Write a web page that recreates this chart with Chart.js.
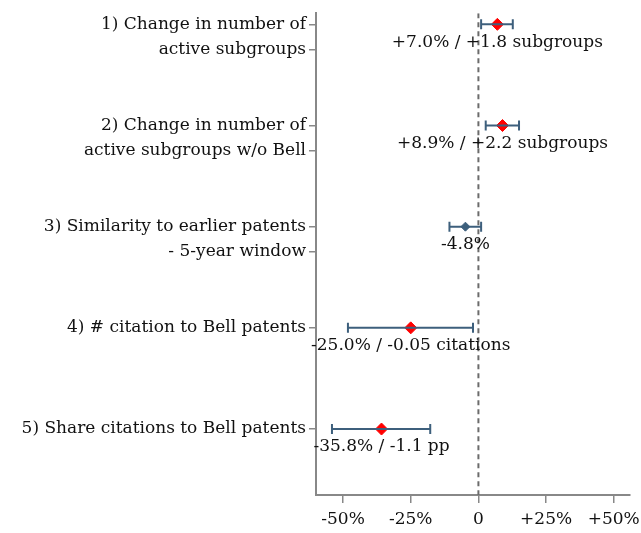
<!DOCTYPE html>
<html>
<head>
<meta charset="utf-8">
<script src="https://cdn.jsdelivr.net/npm/chart.js@4.4.1/dist/chart.umd.min.js"></script>
<style>
  html, body { margin: 0; padding: 0; background: #fff; }
  #wrap { width: 641px; height: 533px; }
</style>
</head>
<body>
<div id="wrap"><canvas id="chart"></canvas></div>
<script>
// outcomes, top to bottom (each line of a label gets its own tick)
const categories = [
  ['1) Change in number of', 'active subgroups'],
  ['2) Change in number of', 'active subgroups w/o Bell'],
  ['3) Similarity to earlier patents', '- 5-year window'],
  ['4) # citation to Bell patents'],
  ['5) Share citations to Bell patents']
];
const estimates = [7.0, 8.9, -4.8, -25.0, -35.8];
const ciLow  = [1.0, 2.7, -10.7, -48.2, -54.1];
const ciHigh = [12.7, 15.0, 1.0, -2.0, -17.8];
const significant = [true, true, false, true, true];
const pointLabels = [
  '+7.0% / +1.8 subgroups',
  '+8.9% / +2.2 subgroups',
  '-4.8%',
  '-25.0% / -0.05 citations',
  '-35.8% / -1.1 pp'
];
const xTicks = [-50, -25, 0, 25, 50];
const xTickLabels = ['-50%', '-25%', '0', '+25%', '+50%'];

const FONT = 'DejaVu Serif';
const FONT_SIZE = 17;
const barColor = '#3d5f7c';
const yMin = 0.89, yMax = 5.652;

// y tick positions: row n, second line a quarter row lower
const yTickVals = [];
const yTickText = {};
categories.forEach((lines, i) => {
  lines.forEach((t, j) => {
    const v = i + 1 + j * 0.25;
    yTickVals.push(v);
    yTickText[v] = t;
  });
});

const datasets = [];

// zero reference line
datasets.push({
  type: 'line',
  data: [{ x: 0, y: yMin }, { x: 0, y: yMax }],
  borderColor: '#6b6b6b',
  borderWidth: 2,
  borderDash: [5, 4],
  pointRadius: 0
});

// confidence intervals with end caps
estimates.forEach((e, i) => {
  datasets.push({
    type: 'line',
    data: [{ x: ciLow[i], y: i + 1 }, { x: ciHigh[i], y: i + 1 }],
    borderColor: barColor,
    borderWidth: 2,
    pointStyle: 'line',
    rotation: 90,
    pointRadius: 5,
    pointBorderWidth: 2,
    pointBorderColor: barColor
  });
});

// point estimates
estimates.forEach((e, i) => {
  datasets.push({
    type: 'scatter',
    data: [{ x: e, y: i + 1 }],
    pointStyle: 'rectRot',
    pointRadius: significant[i] ? 6 : 4.5,
    backgroundColor: significant[i] ? '#ff0000' : barColor,
    borderColor: significant[i] ? '#ff0000' : barColor,
    borderWidth: 1
  });
});

const estimateText = {
  id: 'estimateText',
  afterDatasetsDraw(chart) {
    const { ctx, scales } = chart;
    ctx.save();
    ctx.font = FONT_SIZE + 'px "' + FONT + '"';
    ctx.fillStyle = '#111';
    ctx.textAlign = 'center';
    ctx.textBaseline = 'middle';
    estimates.forEach((e, i) => {
      const x = scales.x.getPixelForValue(e);
      const y = scales.y.getPixelForValue(i + 1);
      ctx.fillText(pointLabels[i], x, y + 18);
    });
    ctx.restore();
  }
};

new Chart(document.getElementById('chart'), {
  type: 'scatter',
  data: { datasets },
  plugins: [estimateText],
  options: {
    responsive: true,
    maintainAspectRatio: false,
    animation: false,
    layout: { padding: { top: 0, right: 11, bottom: 0, left: 0 } },
    plugins: {
      legend: { display: false },
      tooltip: { enabled: false }
    },
    scales: {
      x: {
        type: 'linear',
        min: -60,
        max: 56,
        afterBuildTicks: (axis) => { axis.ticks = xTicks.map(v => ({ value: v })); },
        afterFit: (axis) => {
          axis.height = 38;
          axis.paddingLeft = 0;
          axis.paddingRight = 0;
        },
        ticks: {
          callback: (v) => xTickLabels[xTicks.indexOf(v)],
          color: '#111',
          font: { family: FONT, size: FONT_SIZE },
          padding: 6,
          maxRotation: 0
        },
        grid: { drawOnChartArea: false, drawTicks: true, tickLength: 8, color: '#888', lineWidth: 1.5 },
        border: { display: true, color: '#888', width: 2 }
      },
      y: {
        type: 'linear',
        reverse: true,
        min: yMin,
        max: yMax,
        afterBuildTicks: (axis) => { axis.ticks = yTickVals.map(v => ({ value: v })); },
        afterFit: (axis) => { axis.width = 316; },
        ticks: {
          callback: (v) => yTickText[v],
          color: '#111',
          font: { family: FONT, size: FONT_SIZE },
          padding: 3
        },
        grid: { drawOnChartArea: false, drawTicks: true, tickLength: 7, color: '#888', lineWidth: 1.5 },
        border: { display: true, color: '#888', width: 2 }
      }
    }
  }
});
</script>
</body>
</html>
